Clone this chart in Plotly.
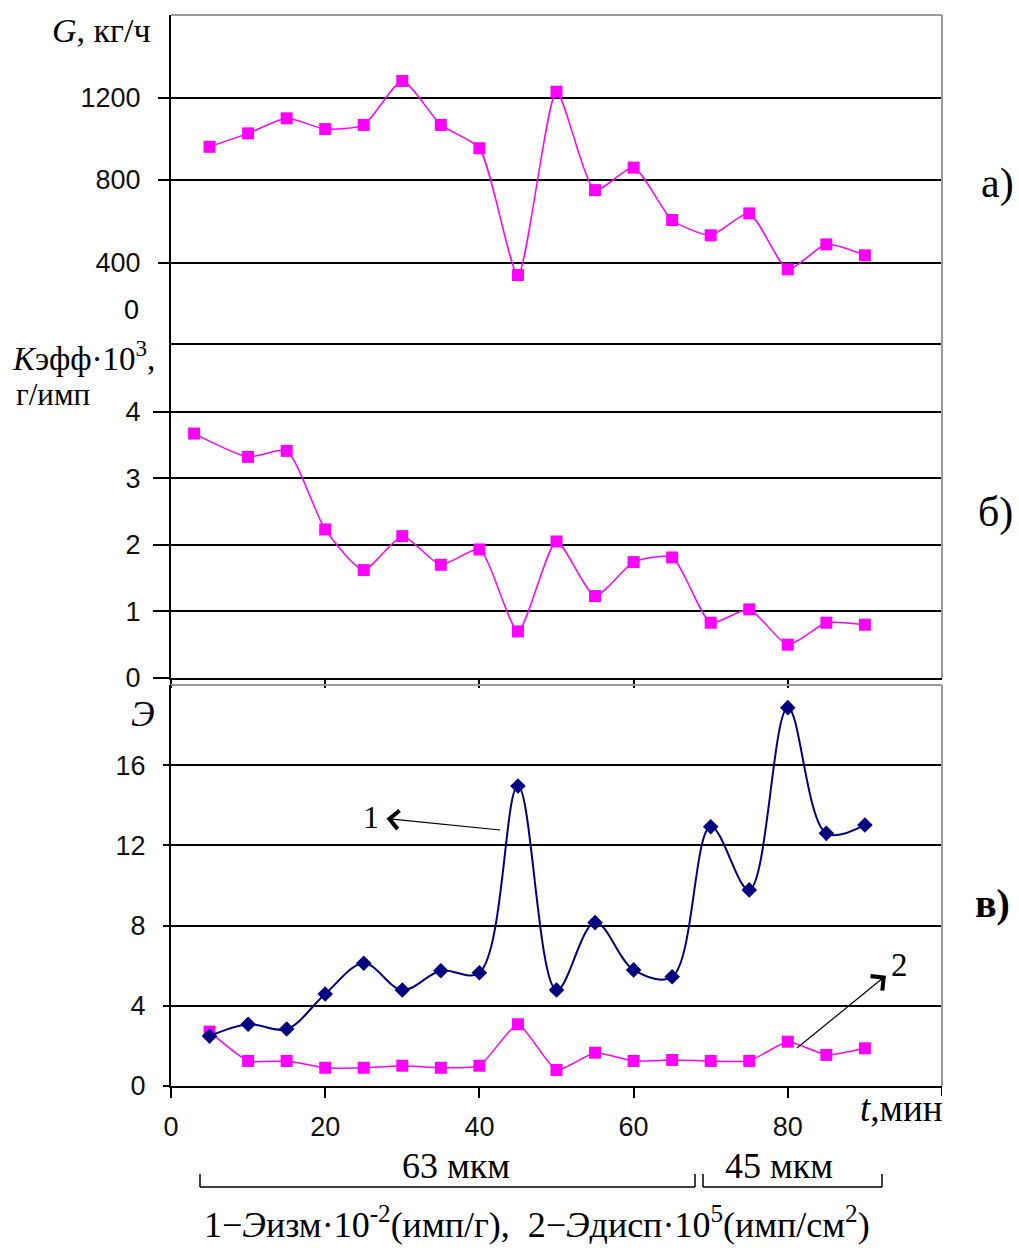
import plotly.graph_objects as go

# ---------------- data ----------------
t = [5, 10, 15, 20, 25, 30, 35, 40, 45, 50, 55, 60, 65, 70, 75, 80, 85, 90]
t_mid = [3, 10, 15, 20, 25, 30, 35, 40, 45, 50, 55, 60, 65, 70, 75, 80, 85, 90]

G = [961, 1026, 1099, 1047, 1067, 1280, 1067, 954, 339, 1228,
     751, 860, 606, 532, 638, 367, 488, 435]

K_eff = [3.67, 3.32, 3.41, 2.23, 1.62, 2.13, 1.70, 1.93, 0.70, 2.05,
         1.23, 1.74, 1.81, 0.83, 1.03, 0.50, 0.83, 0.80]

E_izm = [2.49, 3.08, 2.84, 4.59, 6.12, 4.79, 5.75, 5.65, 14.96, 4.79,
         8.15, 5.79, 5.45, 12.93, 9.78, 18.87, 12.60, 13.02]

E_disp = [2.71, 1.25, 1.25, 0.91, 0.91, 1.01, 0.91, 1.01, 3.08, 0.80,
          1.66, 1.25, 1.30, 1.25, 1.25, 2.21, 1.55, 1.88]

x_ticks = [0, 20, 40, 60, 80]
g_ticks = [400, 800, 1200]
k_ticks = [0, 1, 2, 3, 4]
e_ticks = [0, 4, 8, 12, 16]

# ---------------- layout helpers ----------------
W, H = 1019, 1248
def px(xp):
    return xp / W
def py(yp):
    return 1 - yp / H

MAG = "#FF00FF"
NAVY = "#000080"
SANS = "Liberation Sans, Arial, sans-serif"
SERIF = "Liberation Serif, Times New Roman, serif"

xdom = [px(171), px(942)]

fig = go.Figure()

fig.add_trace(go.Scatter(
    x=t, y=G, mode="lines+markers", xaxis="x", yaxis="y",
    line=dict(color=MAG, width=1.5, shape="spline", smoothing=0.6),
    marker=dict(symbol="square", size=12, color=MAG), showlegend=False))

fig.add_trace(go.Scatter(
    x=t_mid, y=K_eff, mode="lines+markers", xaxis="x2", yaxis="y2",
    line=dict(color=MAG, width=1.5, shape="spline", smoothing=0.6),
    marker=dict(symbol="square", size=12, color=MAG), showlegend=False))

fig.add_trace(go.Scatter(
    x=t, y=E_disp, mode="lines+markers", xaxis="x3", yaxis="y3",
    line=dict(color=MAG, width=1.5, shape="spline", smoothing=0.5),
    marker=dict(symbol="square", size=12, color=MAG), showlegend=False))

fig.add_trace(go.Scatter(
    x=t, y=E_izm, mode="lines+markers", xaxis="x3", yaxis="y3",
    line=dict(color=NAVY, width=2, shape="spline", smoothing=1.0),
    marker=dict(symbol="diamond", size=12, color=NAVY), showlegend=False))

tickfont = dict(family=SANS, size=27, color="#111")

common_y = dict(showline=True, linecolor="black", linewidth=2,
                showgrid=True, gridcolor="black", gridwidth=2,
                zeroline=False, ticks="outside", tickcolor="black",
                tickwidth=2, tickfont=tickfont, fixedrange=True)

fig.update_layout(
    width=W, height=H,
    margin=dict(l=0, r=0, t=0, b=0, autoexpand=False),
    paper_bgcolor="white", plot_bgcolor="white",
    xaxis=dict(domain=xdom, range=[0, 100], anchor="y",
               showticklabels=False, showgrid=False, zeroline=False,
               showline=False, ticks=""),
    yaxis=dict(domain=[py(345), py(15)], range=[0, 1600], anchor="x",
               tickvals=g_ticks, ticklen=11, ticklabelstandoff=12, **common_y),
    xaxis2=dict(domain=xdom, range=[0, 100], anchor="y2",
                tickvals=x_ticks, showticklabels=False, showgrid=False,
                zeroline=False, showline=True, linecolor="black",
                linewidth=2, mirror=True, ticks="outside", ticklen=8,
                tickwidth=2, tickcolor="black"),
    yaxis2=dict(domain=[py(678), py(345)], range=[0, 5], anchor="x2",
                tickvals=k_ticks, ticklen=16, ticklabelstandoff=7, **common_y),
    xaxis3=dict(domain=xdom, range=[0, 100], anchor="y3",
                tickvals=x_ticks, showgrid=False,
                zeroline=False, showline=True, linecolor="black",
                linewidth=2, ticks="outside", ticklen=10, tickwidth=2,
                tickcolor="black", tickfont=tickfont, ticklabelstandoff=6),
    yaxis3=dict(domain=[py(1086), py(685)], range=[0, 20], anchor="x3",
                tickvals=e_ticks, ticklen=6, ticklabelstandoff=12, **common_y),
)

# gray frame borders (top / right)
gray = dict(color="#9a9a9a", width=2)
for xr, yr, top in [("x", "y", True), ("x2", "y2", False), ("x3", "y3", True)]:
    fig.add_shape(type="line", xref=xr + " domain", yref=yr + " domain",
                  x0=1, x1=1, y0=0, y1=1, line=gray, layer="above")
    if top:
        fig.add_shape(type="line", xref=xr + " domain", yref=yr + " domain",
                      x0=0, x1=1, y0=1, y1=1, line=gray, layer="above")

# tick mark at t = 100 on the bottom axis
fig.add_shape(type="line", xref="x3", yref="paper", x0=100, x1=100,
              y0=py(1086), y1=py(1096), line=dict(color="black", width=2))

# brackets for particle size ranges
blk = dict(color="black", width=1.5)
for xa, xb in [(200, 695), (703, 882)]:
    fig.add_shape(type="line", xref="paper", yref="paper",
                  x0=px(xa), x1=px(xb), y0=py(1187), y1=py(1187), line=blk)
    for xe in (xa, xb):
        fig.add_shape(type="line", xref="paper", yref="paper",
                      x0=px(xe), x1=px(xe), y0=py(1187), y1=py(1174), line=blk)

def note(text, x, y, size=24, family=SERIF, xanchor="center", yanchor="middle"):
    fig.add_annotation(text=text, x=px(x), y=py(y), xref="paper", yref="paper",
                       showarrow=False, xanchor=xanchor, yanchor=yanchor,
                       font=dict(family=family, size=size, color="black"))

note("<i>G</i>, кг/ч", 50, 30, size=34, xanchor="left")
note("0", 141, 310, size=27, family=SANS, xanchor="right")
note("<i>K</i>эфф·10<sup>3</sup>,", 10, 356, size=33, xanchor="left")
note("г/имп", 14, 394, size=31, xanchor="left")
note("<i>Э</i>", 143, 714, size=36)
note("а)", 997, 183, size=42)
note("б)", 995, 512, size=42)
note("<b>в)</b>", 992, 903, size=40)
note("<i>t</i>,мин", 858, 1108, size=37, xanchor="left")
note("63 мкм", 456, 1166, size=36)
note("45 мкм", 779, 1166, size=36)
note("1−<i>Э</i>изм·10<sup>-2</sup>(имп/г),  2−<i>Э</i>дисп·10<sup>5</sup>(имп/см<sup>2</sup>)",
     537, 1222, size=36)

# curve labels with arrows (arrowhead next to the label)
fig.add_annotation(x=px(500), y=py(830), xref="paper", yref="paper",
                   ax=371 - 500, ay=817 - 830, text="1", showarrow=True,
                   arrowside="start", startarrowhead=4, startarrowsize=3,
                   startstandoff=6, arrowwidth=1.2, arrowcolor="black",
                   font=dict(family=SERIF, size=32, color="black"))
fig.add_annotation(x=px(797), y=py(1048), xref="paper", yref="paper",
                   ax=899 - 797, ay=965 - 1048, text="2", showarrow=True,
                   arrowside="start", startarrowhead=4, startarrowsize=3,
                   startstandoff=4, arrowwidth=1.2, arrowcolor="black",
                   font=dict(family=SERIF, size=33, color="black"))

fig.write_html("out.html", config={"displayModeBar": False},
               post_script="document.body.style.margin='0';document.body.style.overflow='hidden';")
